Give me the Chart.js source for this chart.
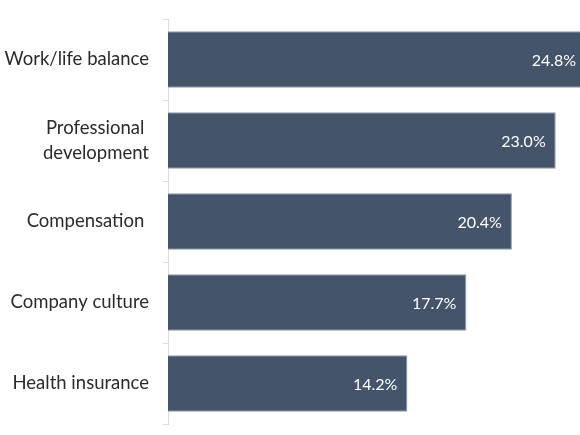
<!DOCTYPE html>
<html>
<head>
<meta charset="utf-8">
<script src="https://cdn.jsdelivr.net/npm/chart.js@4/dist/chart.umd.min.js"></script>
<style>
  html, body { margin: 0; padding: 0; background: #fff; }
  #wrap { width: 580px; height: 435px; }
</style>
</head>
<body>
<div id="wrap"><canvas id="canvas"></canvas></div>
<script>
const labels = ['Work/life balance', ['Professional ', 'development'], 'Compensation ', 'Company culture', 'Health insurance']
const values = [24.8, 23.0, 20.4, 17.7, 14.2]

// white value labels just inside the end of each bar
const valueLabels = {
    id: 'valueLabels',
    afterDatasetsDraw(chart) {
        const ctx = chart.ctx
        const meta = chart.getDatasetMeta(0)
        ctx.save()
        ctx.font = '16px Lato'
        ctx.fillStyle = '#ffffff'
        ctx.textAlign = 'right'
        ctx.textBaseline = 'middle'
        meta.data.forEach((bar, i) => {
            const x = bar.x - 10
            ctx.fillText(values[i].toFixed(1) + '%', x, bar.y + 1)
        })
        ctx.restore()
    }
}

const data = {
    labels: labels,
    datasets: [
        {
            data: values,
            backgroundColor: '#44546a',
            borderColor: '#8c98a8',
            borderWidth: 1,
            categoryPercentage: 0.7,
            barPercentage: 1.0,
            clip: false,
        }
    ]
}

const config = {
    type: 'bar',
    data: data,
    options: {
        indexAxis: 'y',
        responsive: true,
        maintainAspectRatio: false,
        animation: false,
        layout: { padding: { top: 19, bottom: 11, left: 0, right: 0 } },
        plugins: {
            legend: { display: false },
            tooltip: { enabled: false },
        },
        scales: {
            x: {
                display: false,
                min: 0,
                max: 24.44,
            },
            y: {
                afterFit(scale) {
                    scale.width = 168
                    scale.paddingTop = 0
                    scale.paddingBottom = 0
                },
                border: { display: true, color: '#dcdcdc', width: 1 },
                grid: {
                    display: true,
                    drawOnChartArea: false,
                    drawTicks: true,
                    tickLength: 5,
                    color: '#dcdcdc',
                    offset: true,
                },
                ticks: {
                    color: '#2b2b2b',
                    padding: 14,
                    font: { family: 'Lato', size: 18.5, lineHeight: 1.35 },
                },
            }
        }
    },
    plugins: [valueLabels]
}
const canvas = document.getElementById('canvas')
const chart = new Chart(canvas, config)
</script>
</body>
</html>
